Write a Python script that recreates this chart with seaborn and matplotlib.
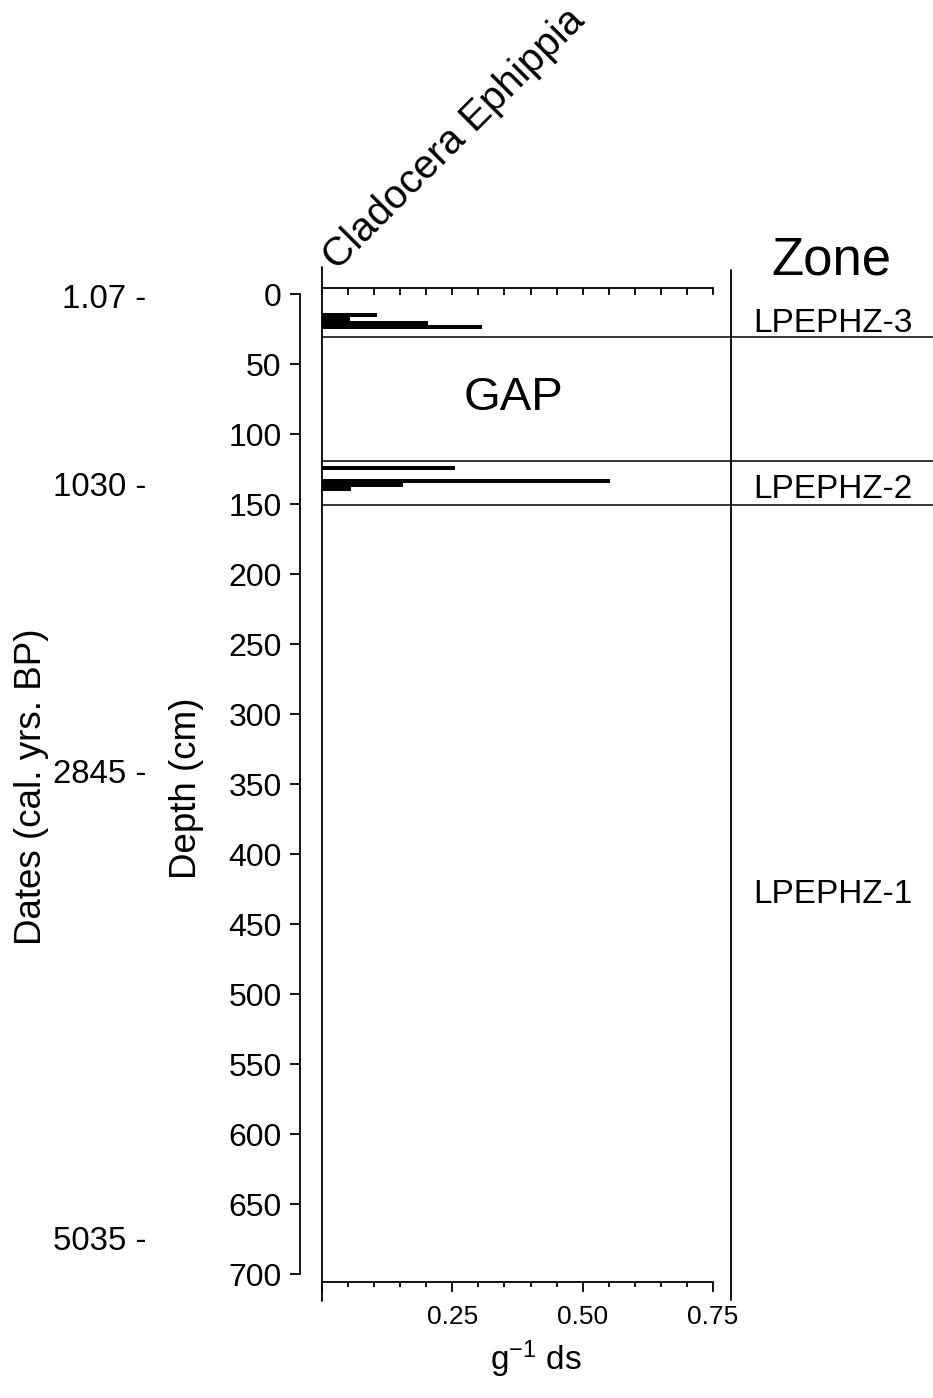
import numpy as np
import pandas as pd
import matplotlib
matplotlib.use("Agg")
import matplotlib.pyplot as plt
import seaborn as sns
from matplotlib.ticker import MultipleLocator

# ---------------- data ----------------
depths = [15.0, 18.0, 21.0, 23.5, 124.5, 133.5, 136.5, 139.5]
ephippia = [0.105, 0.054, 0.204, 0.307, 0.256, 0.553, 0.156, 0.055]
zone_bounds = [31.0, 119.5, 151.0]
zone_names = ["LPEPHZ-3", "LPEPHZ-2", "LPEPHZ-1"]
zone_label_depths = [26.9, 145.7, 435.0]
date_depths = [1.4, 136.0, 341.0, 674.0]
date_labels = ["1.07", "1030", "2845", "5035"]
depth_ticks = list(range(0, 701, 50))
x_ticks = [0.0, 0.25, 0.50, 0.75]
x_ticklabels = ["", "0.25", "0.50", "0.75"]

# ---------------- style ----------------
sns.set_theme(style="ticks")
plt.rcParams["font.family"] = ["Liberation Sans", "DejaVu Sans"]
plt.rcParams["mathtext.fontset"] = "custom"
plt.rcParams["mathtext.rm"] = "Liberation Sans"
plt.rcParams["mathtext.it"] = "Liberation Sans:italic"
plt.rcParams["mathtext.bf"] = "Liberation Sans:bold"
plt.rcParams["text.color"] = "black"
plt.rcParams["xtick.color"] = "black"
plt.rcParams["ytick.color"] = "black"

W, H = 933, 1398
fig = plt.figure(figsize=(W / 100, H / 100), dpi=100)
fig.patch.set_facecolor("white")


def fx(px):
    return px / W


def fy(py):
    return 1 - py / H


LW = 1.3
ax = fig.add_axes([fx(322), fy(1282), fx(713) - fx(322), fy(288) - fy(1282)])
ax.set_facecolor("white")

df = pd.DataFrame({"depth": depths, "value": ephippia})
sns.barplot(data=df, x="value", y="depth", orient="h", native_scale=True,
            width=1.2, color="black", saturation=1, errorbar=None,
            linewidth=0, ax=ax)

ax.set_xlim(0, 0.75)
ax.set_ylim(705.7, -4.3)
ax.set_xlabel("")
ax.set_ylabel("")

# spines
for s in ["right", "top"]:
    ax.spines[s].set_visible(False)
ax.spines["left"].set_position(("outward", 22 * 0.72))
ax.spines["left"].set_bounds(0, 700)
for s in ["left", "bottom"]:
    ax.spines[s].set_color("black")
    ax.spines[s].set_linewidth(LW)

# depth axis
ax.set_yticks(depth_ticks)
ax.set_yticklabels([str(t) for t in depth_ticks])
ax.tick_params(axis="y", left=True, direction="out", length=7.2, width=LW,
               pad=6, labelsize=23)

# bottom x axis
ax.set_xticks(x_ticks)
ax.set_xticklabels(x_ticklabels)
ax.xaxis.set_minor_locator(MultipleLocator(0.05))
ax.tick_params(axis="x", which="major", bottom=True, direction="out",
               length=7.2, width=LW, pad=9, labelsize=19)
ax.tick_params(axis="x", which="minor", bottom=True, direction="out",
               length=3.6, width=LW)

# top x axis (ticks only, pointing in)
secx = ax.secondary_xaxis("top")
secx.xaxis.set_major_locator(MultipleLocator(0.05))
secx.tick_params(axis="x", direction="in", length=5, width=LW,
                 labeltop=False, top=True)
secx.spines["top"].set_linewidth(LW)
secx.spines["top"].set_color("black")

# dates axis
secy = ax.secondary_yaxis(-0.45)
secy.set_yticks(date_depths)
secy.set_yticklabels([f"{d} -" for d in date_labels])
secy.tick_params(axis="y", length=0, pad=0, labelsize=23.8)
secy.spines["left"].set_visible(False)

# frame lines of the diagram
ax.axvline(0, ymin=-0.019, ymax=1.021, color="black", lw=LW, clip_on=False)
ax.axvline(0.785, ymin=-0.018, ymax=1.018, color="black", lw=LW, clip_on=False)
for d in zone_bounds:
    ax.axhline(d, xmin=0, xmax=1.6, color="black", lw=1.1, clip_on=False)

# texts
ax.text(0.367, 74, "GAP", ha="center", va="center", fontsize=34)
ax.text(0.978, -13.6, "Zone", ha="center", va="baseline", fontsize=38)
for name, d in zip(zone_names, zone_label_depths):
    ax.text(0.98, d, name, ha="center", va="baseline", fontsize=24)

fig.text(fx(337), fy(271), "Cladocera Ephippia", rotation=45,
         rotation_mode="anchor", ha="left", va="baseline", fontsize=29)
fig.text(fx(32), fy(787), "Dates (cal. yrs. BP)", rotation=90,
         ha="center", va="center", fontsize=26.5)
fig.text(fx(187), fy(788), "Depth (cm)", rotation=90,
         ha="center", va="center", fontsize=26.5)
fig.text(fx(536), fy(1370), "g$^{-1}$ ds", ha="center", va="baseline",
         fontsize=24)

fig.savefig("out.png", dpi=100, facecolor="white")
